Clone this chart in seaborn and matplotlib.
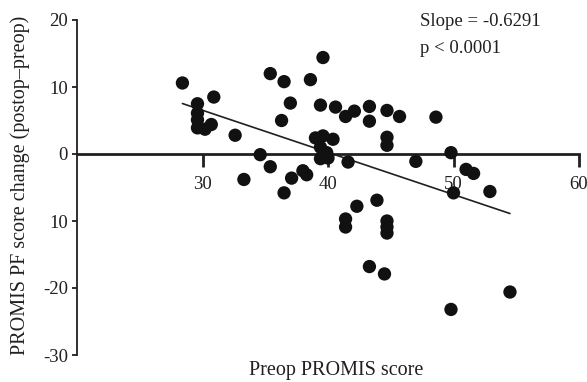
import numpy as np
import pandas as pd
import matplotlib
matplotlib.use("Agg")
import matplotlib.pyplot as plt
import seaborn as sns

# ---- data ----
preop = [28.4, 29.6, 29.6, 29.6, 29.6, 30.9, 30.2, 30.7, 32.6, 34.6,
         35.4, 33.3, 35.4, 36.5, 36.3, 37.0, 37.1, 38.0, 38.3, 36.5,
         38.6, 39.6, 39.4, 40.6, 41.4, 42.1, 43.3, 43.3, 44.7, 45.7,
         48.6, 44.7, 44.7, 49.8, 47.0, 41.6, 39.0, 39.6, 40.4, 39.4,
         39.9, 39.4, 40.0, 51.0, 51.6, 52.9, 50.0, 43.9, 42.3, 41.4,
         41.4, 44.7, 44.7, 44.7, 43.3, 44.5, 54.5, 49.8]
change = [10.6, 7.5, 6.1, 5.1, 3.9, 8.5, 3.7, 4.4, 2.8, -0.1,
          -1.9, -3.8, 12.0, 10.8, 5.0, 7.6, -3.6, -2.5, -3.1, -5.8,
          11.1, 14.4, 7.3, 7.0, 5.6, 6.4, 7.1, 4.9, 6.5, 5.6,
          5.5, 2.5, 1.3, 0.2, -1.1, -1.2, 2.4, 2.7, 2.2, 1.0,
          0.2, -0.7, -0.6, -2.3, -2.9, -5.6, -5.8, -6.9, -7.8, -9.7,
          -10.9, -10.0, -10.9, -11.8, -16.8, -17.9, -20.6, -23.2]
slope = -0.6291
intercept = 25.4
annot_lines = ["Slope = -0.6291", "p < 0.0001"]
x_ticks = [30, 40, 50, 60]
y_ticks = [-30, -20, -10, 0, 10, 20]
y_ticklabels = ["-30", "-20", "10", "0", "10", "20"]
x_label = "Preop PROMIS score"
y_label = "PROMIS PF score change (postop\u2013preop)"

df = pd.DataFrame({"preop": preop, "change": change})
xs = np.array([min(preop), max(preop)])
fit = pd.DataFrame({"preop": xs, "change": intercept + slope * xs})

# ---- style ----
sns.set_style("white")
plt.rcParams["font.family"] = ["Liberation Serif", "DejaVu Serif"]
ink = "#231f20"
fs = 13.5

fig = plt.figure(figsize=(5.87, 3.82), dpi=100)
ax = fig.add_axes([77 / 587, 1 - 355 / 382, 502 / 587, 335 / 382])

sns.scatterplot(data=df, x="preop", y="change", ax=ax, color="#111111",
                s=92, edgecolor="none", linewidth=0, zorder=3)
sns.lineplot(data=fit, x="preop", y="change", ax=ax, color=ink,
             linewidth=1.2, zorder=2)

ax.set_xlim(20, 60)
ax.set_ylim(-30, 20)
ax.set_xticks(x_ticks)
ax.set_xticklabels([str(t) for t in x_ticks])
ax.set_yticks(y_ticks)
ax.set_yticklabels(y_ticklabels)

for s in ["top", "right"]:
    ax.spines[s].set_visible(False)
ax.spines["bottom"].set_position(("data", 0))
ax.spines["bottom"].set_linewidth(2.0)
ax.spines["bottom"].set_color(ink)
ax.spines["left"].set_linewidth(1.3)
ax.spines["left"].set_color(ink)

ax.tick_params(axis="x", direction="out", length=9, width=2.0, color=ink,
               labelsize=fs, labelcolor=ink, pad=7, bottom=True)
ax.tick_params(axis="y", direction="out", length=3.5, width=1.3, color=ink,
               labelsize=fs, labelcolor=ink, pad=3, left=True)

ax.set_xlabel(x_label, fontsize=14.5, color=ink)
ax.xaxis.set_label_coords(0.517, -0.018)
ax.set_ylabel(y_label, fontsize=14.5, color=ink)
ax.yaxis.set_label_coords(-0.094, 0.506)

ax.text(0.683, 1.021, annot_lines[0], transform=ax.transAxes, ha="left",
        va="top", fontsize=fs, color=ink)
ax.text(0.683, 0.94, annot_lines[1], transform=ax.transAxes, ha="left",
        va="top", fontsize=fs, color=ink)

fig.savefig("out.png", dpi=100)
